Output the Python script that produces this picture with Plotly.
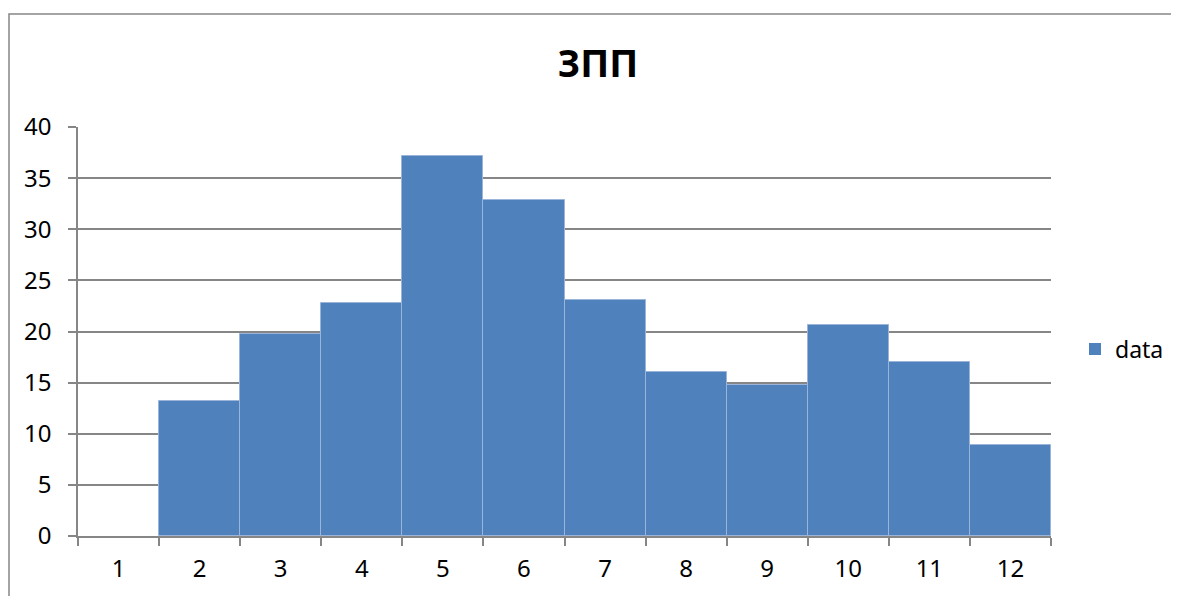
import plotly.graph_objects as go

categories = ["1", "2", "3", "4", "5", "6", "7", "8", "9", "10", "11", "12"]
values = [0, 13.2, 19.8, 22.8, 37.2, 32.9, 23.1, 16.0, 14.8, 20.6, 17.0, 8.9]
series_name = "data"
title_text = "ЗПП"

# page has an 8px body margin: figure sits at (8, 8) in the window
OFF = 8
W, H = 1210, 596 - OFF
pw, ph = 973, 409
L, T, B = 78 - OFF, 127 - OFF, 60
R = W - L - pw

fig = go.Figure()
fig.add_trace(go.Bar(
    x=categories, y=values, name=series_name,
    marker=dict(color="#4F81BD",
                line=dict(color="#9BB5DA", width=[0 if v == 0 else 1 for v in values])),
    showlegend=True,
))

grid = "#868686"
fig.update_layout(
    width=W, height=H,
    margin=dict(l=L, r=R, t=T, b=B),
    paper_bgcolor="white", plot_bgcolor="white",
    bargap=0,
    font=dict(family="Noto Sans", size=24, color="black"),
    title=dict(text=f"<b>{title_text}</b>", x=(598 - OFF) / W, xref="container", xanchor="center",
               y=1 - (64 - OFF) / H, yref="container", yanchor="middle",
               font=dict(family="Noto Sans", size=38, color="black")),
    showlegend=True,
    legend=dict(x=(1075 - OFF - L) / pw, y=(H - B - (349 - OFF)) / ph, xanchor="left", yanchor="middle",
                font=dict(family="Noto Sans", size=23), bgcolor="rgba(0,0,0,0)"),
    xaxis=dict(type="category", showgrid=False, showline=True, linecolor=grid, linewidth=1.5,
               ticks="outside", tickson="boundaries", ticklen=8, tickcolor=grid, tickwidth=1.5,
               ticklabelstandoff=10, tickfont=dict(size=24)),
    yaxis=dict(range=[0, 40], dtick=5, showgrid=True, gridcolor=grid, gridwidth=1.5,
               showline=True, linecolor=grid, linewidth=1.5, zeroline=False,
               ticks="outside", ticklen=8, tickcolor=grid, tickwidth=1.5,
               ticklabelstandoff=12, tickfont=dict(size=24)),
)

fig.add_shape(type="rect", xref="paper", yref="paper",
              x0=(9 - OFF - L) / pw, x1=(1200 - OFF - L) / pw, y0=-0.5, y1=(H - B - (14 - OFF)) / ph,
              line=dict(color=grid, width=1.5), fillcolor="rgba(0,0,0,0)", layer="below")

fig.write_html("out.html")
